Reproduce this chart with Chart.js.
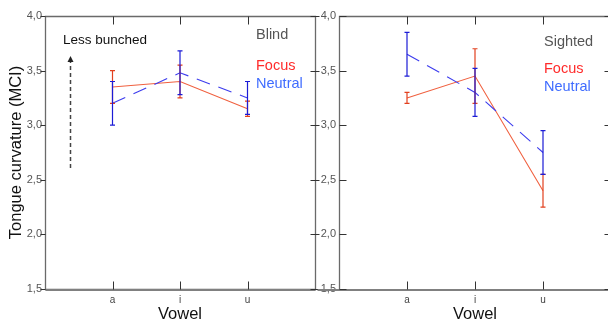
<!DOCTYPE html>
<html>
<head>
<meta charset="utf-8">
<script src="https://cdn.jsdelivr.net/npm/chart.js@4"></script>
<style>
  html, body { margin: 0; padding: 0; background: #fff; width: 608px; height: 324px; overflow: hidden; }
  canvas { position: absolute; top: 0; }
  #blindChart { left: 0; }
  #sightedChart { left: 300px; }
</style>
</head>
<body>
<canvas id="blindChart" width="320" height="324"></canvas>
<canvas id="sightedChart" width="320" height="324"></canvas>
<script>
const vowels = ["a", "i", "u"];
const yTickValues = [1.5, 2.0, 2.5, 3.0, 3.5, 4.0];

// Blind group
const blindFocus = [3.35, 3.40, 3.15];
const blindFocusLo = [3.20, 3.25, 3.08];
const blindFocusHi = [3.50, 3.55, 3.22];
const blindNeutral = [3.20, 3.48, 3.25];
const blindNeutralLo = [3.00, 3.28, 3.10];
const blindNeutralHi = [3.40, 3.68, 3.40];

// Sighted group
const sightedFocus = [3.25, 3.45, 2.40];
const sightedFocusLo = [3.20, 3.20, 2.25];
const sightedFocusHi = [3.30, 3.70, 2.55];
const sightedNeutral = [3.65, 3.30, 2.75];
const sightedNeutralLo = [3.45, 3.08, 2.55];
const sightedNeutralHi = [3.85, 3.52, 2.95];

const FONT = "'Liberation Sans', Arial, sans-serif";
const RED_LINE = "#f0603f";
const RED_ERR = "#e2401e";
const BLUE_LINE = "#3c3cee";
const BLUE_ERR = "#1c1cd6";

const toPoints = vals => vals.map((v, i) => ({ x: i + 1, y: v }));
const snap = v => Math.round(v) + 0.5;

const panelPlugin = {
  id: "panel",
  afterDatasetsDraw(chart, args, opts) {
    const { ctx, chartArea: a, scales: { x, y } } = chart;
    ctx.save();

    // error bars
    chart.data.datasets.forEach(ds => {
      ctx.strokeStyle = ds.errColor;
      ctx.lineWidth = 1.2;
      ds.data.forEach((p, i) => {
        const px = x.getPixelForValue(p.x);
        const yl = y.getPixelForValue(ds.lo[i]);
        const yh = y.getPixelForValue(ds.hi[i]);
        ctx.beginPath();
        ctx.moveTo(px, yl); ctx.lineTo(px, yh);
        ctx.moveTo(px - 2.5, yl); ctx.lineTo(px + 2.5, yl);
        ctx.moveTo(px - 2.5, yh); ctx.lineTo(px + 2.5, yh);
        ctx.stroke();
      });
    });

    // frame
    const L = snap(a.left), R = snap(a.right), T = snap(a.top), B = snap(a.bottom);
    ctx.strokeStyle = "#6a6a6a";
    ctx.lineWidth = 1.3;
    ctx.beginPath();
    if (opts.side === "left") {
      ctx.rect(L, T, R - L, B - T);
    } else {
      ctx.moveTo(L, B); ctx.lineTo(L, T); ctx.lineTo(R, T);
      ctx.lineTo(R, B);
    }
    ctx.stroke();
    ctx.lineWidth = 2;
    ctx.strokeStyle = "#808080";
    ctx.beginPath();
    ctx.moveTo(opts.side === "left" ? L : L - 22, B + 0.5); ctx.lineTo(R, B + 0.5);
    ctx.stroke();

    ctx.strokeStyle = "#333";
    ctx.lineWidth = 1;
    ctx.beginPath();
    yTickValues.forEach(v => {
      const py = snap(y.getPixelForValue(v));
      if (opts.side === "left") {
        ctx.moveTo(L - 5, py); ctx.lineTo(L, py);
        ctx.moveTo(R, py); ctx.lineTo(R + 4, py);
      } else {
        const axisX = L - 22;
        ctx.moveTo(axisX - 7, py); ctx.lineTo(axisX, py);
        ctx.moveTo(L, py); ctx.lineTo(L + 7, py);
        ctx.moveTo(R - 7, py); ctx.lineTo(R, py);
      }
    });
    vowels.forEach((v, i) => {
      const px = snap(x.getPixelForValue(i + 1));
      ctx.moveTo(px, T); ctx.lineTo(px, T + 8);
      ctx.moveTo(px, B); ctx.lineTo(px, B - 8);
    });
    ctx.stroke();

    // annotation text
    ctx.textBaseline = "middle";
    ctx.textAlign = "left";
    (opts.texts || []).forEach(t => {
      ctx.font = t.size + "px " + FONT;
      ctx.fillStyle = t.color;
      ctx.fillText(t.text, t.x, t.y);
    });

    // "less bunched" arrow
    if (opts.arrow) {
      const ar = opts.arrow;
      ctx.strokeStyle = "#444";
      ctx.fillStyle = "#222";
      ctx.lineWidth = 1.5;
      ctx.setLineDash([4, 3]);
      ctx.beginPath();
      ctx.moveTo(ar.x, ar.y1); ctx.lineTo(ar.x, ar.y0 + 6);
      ctx.stroke();
      ctx.setLineDash([]);
      ctx.beginPath();
      ctx.moveTo(ar.x, ar.y0);
      ctx.lineTo(ar.x - 3, ar.y0 + 6);
      ctx.lineTo(ar.x + 3, ar.y0 + 6);
      ctx.closePath();
      ctx.fill();
    }
    ctx.restore();
  }
};

function makePanel(id, focus, focusLo, focusHi, neutral, neutralLo, neutralHi, panelOpts, isLeft) {
  const ctx = document.getElementById(id).getContext("2d");
  return new Chart(ctx, {
    type: "line",
    data: {
      datasets: [
        {
          label: "Focus",
          data: toPoints(focus),
          lo: focusLo, hi: focusHi,
          errColor: RED_ERR,
          borderColor: RED_LINE,
          borderWidth: 1.1,
          pointRadius: 0,
          tension: 0,
          order: 1
        },
        {
          label: "Neutral",
          data: toPoints(neutral),
          lo: neutralLo, hi: neutralHi,
          errColor: BLUE_ERR,
          borderColor: BLUE_LINE,
          borderWidth: 1.1,
          borderDash: [14, 9],
          pointRadius: 0,
          tension: 0,
          order: 0
        }
      ]
    },
    options: {
      responsive: false,
      animation: false,
      devicePixelRatio: 1,
      layout: { padding: { top: 16, right: isLeft ? 1 : 9, left: 0, bottom: 0 } },
      plugins: {
        legend: { display: false },
        tooltip: { enabled: false },
        panel: panelOpts
      },
      scales: {
        x: {
          type: "linear",
          min: 0,
          max: 4,
          grid: { display: false, drawTicks: false },
          border: { display: false },
          afterFit: s => { s.height = 35; },
          ticks: {
            stepSize: 1,
            padding: 5,
            autoSkip: false,
            maxRotation: 0,
            color: "#444",
            font: { family: FONT, size: 10 },
            callback: v => vowels[v - 1] || ""
          },
          title: {
            display: true,
            text: "Vowel",
            color: "#111",
            padding: { top: 0, bottom: 0 },
            font: { family: FONT, size: 16.5 }
          }
        },
        y: {
          min: 1.5,
          max: 4,
          grid: { display: false, drawTicks: false },
          border: { display: false },
          afterFit: s => { s.width = isLeft ? 45 : 39; },
          ticks: {
            stepSize: 0.5,
            padding: 3,
            color: "#555",
            font: { family: FONT, size: 11 },
            callback: v => v.toFixed(1).replace(".", ",")
          },
          title: {
            display: isLeft,
            text: "Tongue curvature (MCI)",
            color: "#111",
            padding: { top: 7, bottom: 0 },
            font: { family: FONT, size: 16.5 }
          }
        }
      }
    },
    plugins: [panelPlugin]
  });
}

makePanel("blindChart", blindFocus, blindFocusLo, blindFocusHi,
  blindNeutral, blindNeutralLo, blindNeutralHi, {
    side: "left",
    arrow: { x: 70.5, y0: 56, y1: 168 },
    texts: [
      { text: "Less bunched", x: 63, y: 40, size: 13.5, color: "#111" },
      { text: "Blind", x: 256, y: 35, size: 14.5, color: "#555" },
      { text: "Focus", x: 256, y: 66, size: 14.5, color: "#ff2b2b" },
      { text: "Neutral", x: 256, y: 84, size: 14.5, color: "#3f6cff" }
    ]
  }, true);

makePanel("sightedChart", sightedFocus, sightedFocusLo, sightedFocusHi,
  sightedNeutral, sightedNeutralLo, sightedNeutralHi, {
    side: "right",
    texts: [
      { text: "Sighted", x: 244, y: 42, size: 14.5, color: "#555" },
      { text: "Focus", x: 244, y: 69, size: 14.5, color: "#ff2b2b" },
      { text: "Neutral", x: 244, y: 87, size: 14.5, color: "#3f6cff" }
    ]
  }, false);
</script>
</body>
</html>
